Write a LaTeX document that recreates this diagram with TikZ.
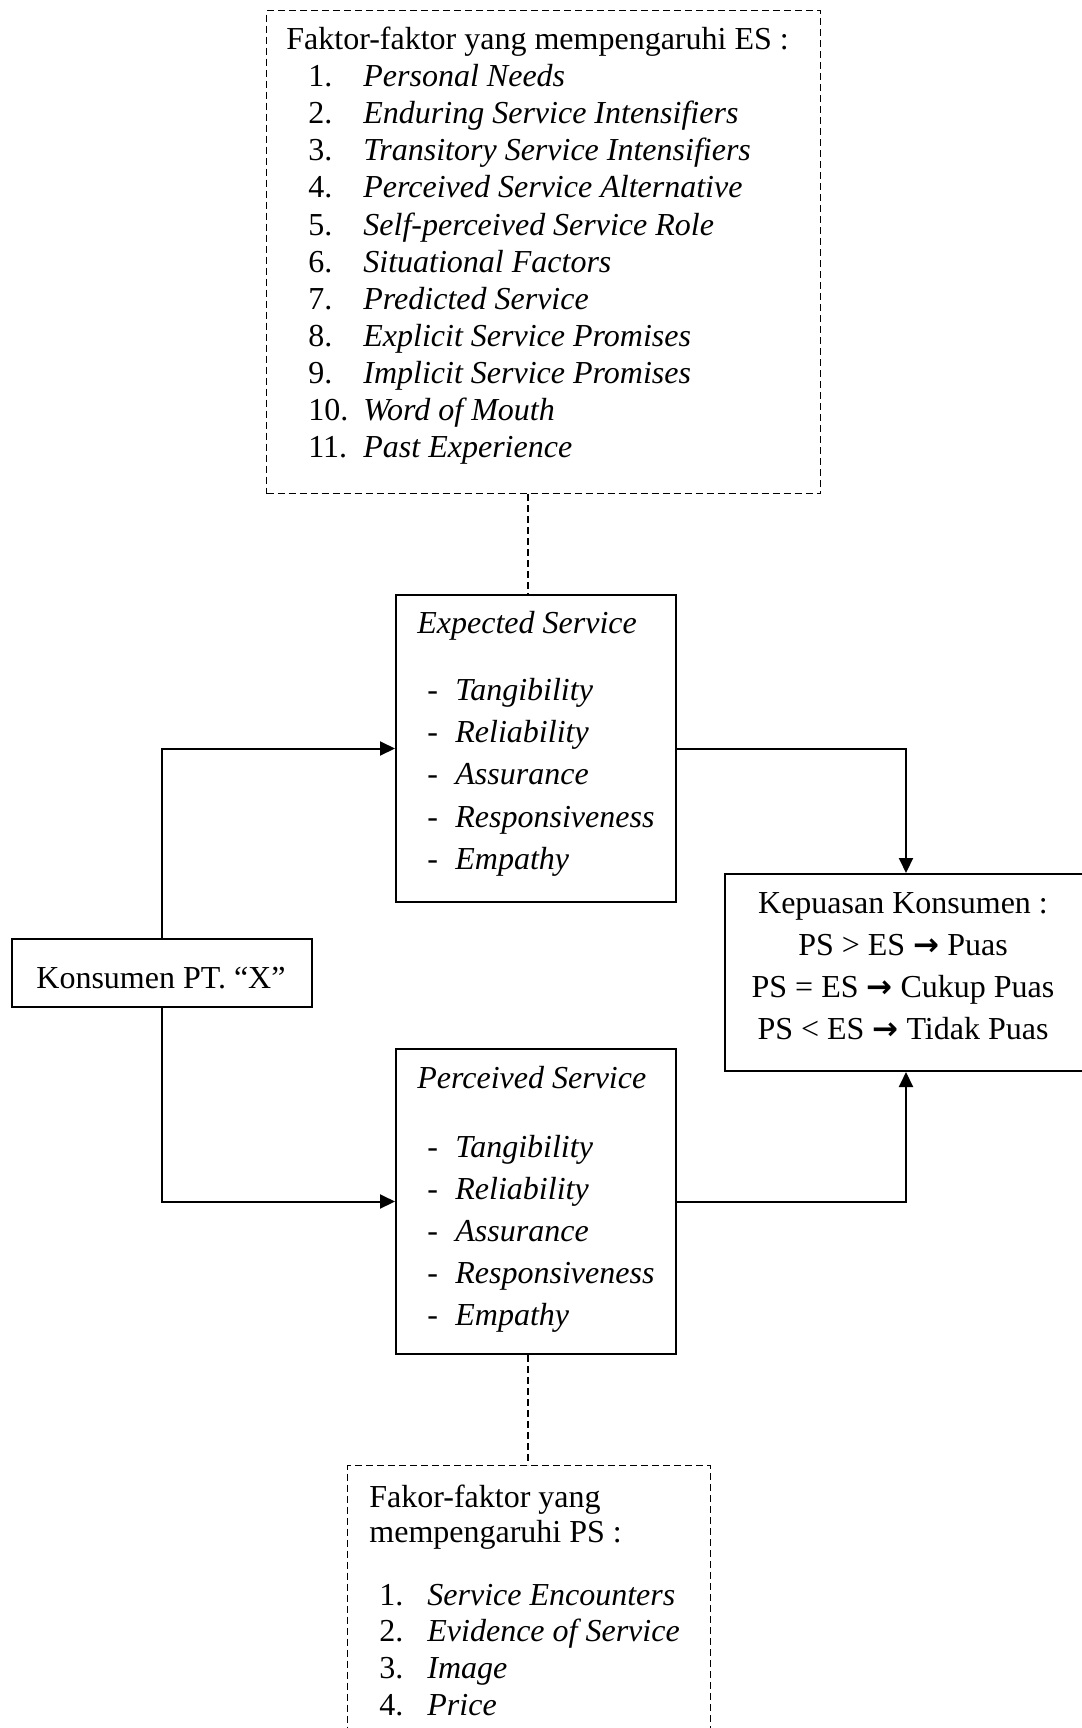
\documentclass[tikz,border=0pt]{standalone}
\usepackage{fontspec}
\setmainfont{Liberation Serif}
\newfontfamily\arrowfont{DejaVu Sans}
\usetikzlibrary{arrows.meta}
\begin{document}
\begin{tikzpicture}[x=0.5pt,y=-0.5pt,
  solidbox/.style={draw,line width=1pt,rectangle,inner sep=0pt,anchor=north west},
  dashbox/.style={draw,line width=0.7pt,dash pattern=on 3.5pt off 2pt,rectangle,inner sep=0pt,anchor=north west},
  txt/.style={inner sep=0pt,anchor=base west,font=\fontsize{16}{19}\selectfont},
  itxt/.style={inner sep=0pt,anchor=base west,font=\fontsize{16}{19}\selectfont\itshape},
  ctxt/.style={inner sep=0pt,anchor=base,font=\fontsize{16}{19}\selectfont},
  arr/.style={line width=1pt,-{Triangle[length=7.5pt,width=7pt]}},
  dconn/.style={line width=0.7pt,dash pattern=on 3.5pt off 2pt}
]
\useasboundingbox (0,0) rectangle (1081,1728);
\newcommand{\arw}{{\arrowfont\bfseries\fontsize{15.5}{16}\selectfont →}}

% boxes
\node[dashbox,minimum width=277pt,minimum height=241.5pt] (topbox) at (266,10) {};
\node[solidbox,minimum width=140pt,minimum height=153.5pt] (es) at (395,594) {};
\node[solidbox,minimum width=140pt,minimum height=152.5pt] (ps) at (395,1048) {};
\node[solidbox,minimum width=150pt,minimum height=34pt] (kons) at (11,938) {};
\node[solidbox,minimum width=180pt,minimum height=98.5pt] (kep) at (724,873) {};
\node[dashbox,minimum width=181.5pt,minimum height=150pt] (botbox) at (347,1465) {};

\coordinate (dx) at (528,0);
\coordinate (rx) at (906,0);

% connectors
\draw[dconn] (topbox.south -| dx) -- (es.north -| dx);
\draw[dconn] (ps.south -| dx) -- (botbox.north -| dx);
\draw[arr] (kons.north) |- (es.west);
\draw[arr] (kons.south) |- (ps.west);
\draw[arr] (es.east) -| (kep.north -| rx);
\draw[arr] (ps.east) -| (kep.south -| rx);

% top box text
\node[txt] (t0) at (286,50) {Faktor-faktor yang mempengaruhi ES :};
\foreach \n/\t [count=\k from 0] in {1./Personal Needs,2./Enduring Service Intensifiers,3./Transitory Service Intensifiers,4./Perceived Service Alternative,5./Self-perceived Service Role,6./Situational Factors,7./Predicted Service,8./Explicit Service Promises,9./Implicit Service Promises,10./Word of Mouth,11./Past Experience}{
  \node[txt] (tn\k) at (308,87+37*\k) {\n};
  \node[itxt] (ti\k) at (363,87+37*\k) {\t};
}

% expected service
\node[itxt] (est) at (417,633) {Expected Service};
\foreach \t [count=\k from 0] in {Tangibility,Reliability,Assurance,Responsiveness,Empathy}{
  \node[txt] (esd\k) at (427,700+42.4*\k) {-};
  \node[itxt] (esi\k) at (455,700+42.4*\k) {\t};
}

% perceived service
\node[itxt] (pst) at (417,1088) {Perceived Service};
\foreach \t [count=\k from 0] in {Tangibility,Reliability,Assurance,Responsiveness,Empathy}{
  \node[txt] (psd\k) at (427,1157+42*\k) {-};
  \node[itxt] (psi\k) at (455,1157+42*\k) {\t};
}

% konsumen
\node[ctxt] (konst) at (161,988) {Konsumen PT. “X”};

% kepuasan
\node[ctxt] (kep0) at (903,913) {Kepuasan Konsumen :};
\node[ctxt] (kep1) at (903,955) {PS > ES \arw{} Puas};
\node[ctxt] (kep2) at (903,997) {PS = ES \arw{} Cukup Puas};
\node[ctxt] (kep3) at (903,1039) {PS < ES \arw{} Tidak Puas};

% bottom box text
\node[txt] (b0) at (369,1507) {Fakor-faktor yang};
\node[txt] (b1) at (369,1542) {mempengaruhi PS :};
\foreach \n/\t [count=\k from 0] in {1./Service Encounters,2./Evidence of Service,3./Image,4./Price}{
  \node[txt] (bn\k) at (379,1605+36.7*\k) {\n};
  \node[itxt] (bi\k) at (427,1605+36.7*\k) {\t};
}
\end{tikzpicture}
\end{document}
